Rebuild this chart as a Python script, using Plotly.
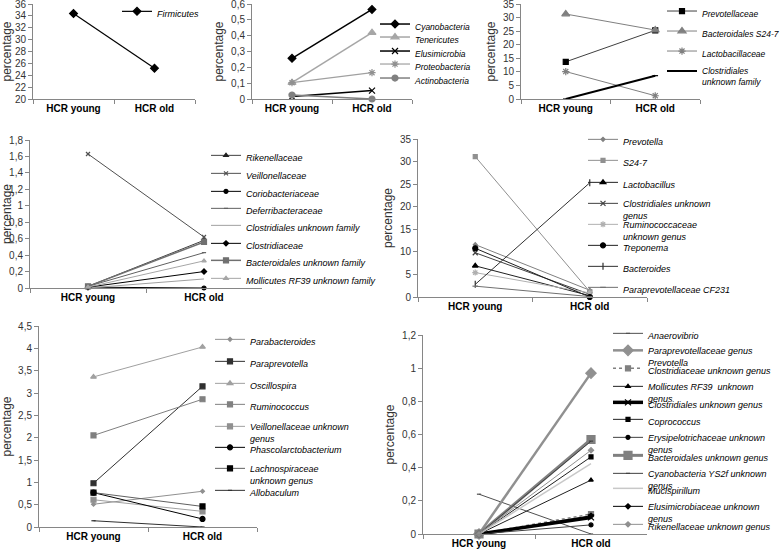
import plotly.graph_objects as go

W, H = 781, 549
FONT = "Liberation Sans, Arial, sans-serif"

categories = ["HCR young", "HCR old"]

# ---- Panel 1: phylum Firmicutes
p1_names = ["Firmicutes"]
p1_values = [[34.4, 25.2]]

# ---- Panel 2: minor phyla
p2_names = ["Cyanobacteria", "Tenericutes", "Elusimicrobia", "Proteobacteria", "Actinobacteria"]
p2_values = [[0.257, 0.566], [0.103, 0.419], [0.015, 0.053], [0.103, 0.166], [0.025, 0.0]]

# ---- Panel 3: major families
p3_names = ["Prevotellaceae", "Bacteroidales S24-7", "Lactobacillaceae", "Clostridiales<br>unknown family"]
p3_values = [[13.7, 25.3], [31.3, 25.4], [10.1, 1.2], [0.0, 8.6]]

# ---- Panel 4: minor families
p4_names = ["Rikenellaceae", "Veillonellaceae", "Coriobacteriaceae", "Deferribacteraceae",
            "Clostridiales unknown family", "Clostridiaceae", "Bacteroidales unknown family",
            "Mollicutes RF39 unknown family"]
p4_values = [[0.02, 0.58], [1.63, 0.62], [0.01, 0.0], [0.02, 0.43],
             [0.0, 0.11], [0.01, 0.20], [0.02, 0.56], [0.01, 0.33]]

# ---- Panel 5: major genera
p5_names = ["Prevotella", "S24-7", "Lactobacillus", "Clostridiales unknown<br>genus",
            "Ruminococcaceae<br>unknown genus", "Treponema", "Bacteroides", "Paraprevotellaceae CF231"]
p5_values = [[11.6, 1.5], [31.1, 1.2], [6.9, 0.3], [9.8, 0.6],
             [5.4, 0.9], [10.8, 0.0], [2.8, 25.3], [2.4, 0.1]]

# ---- Panel 6: intermediate genera
p6_names = ["Parabacteroides", "Paraprevotella", "Oscillospira", "Ruminococcus",
            "Veillonellaceae unknown<br>genus", "Phascolarctobacterium",
            "Lachnospiraceae<br>unknown genus", "Allobaculum"]
p6_values = [[0.51, 0.80], [0.98, 3.15], [3.36, 4.03], [2.05, 2.86],
             [0.61, 0.35], [0.77, 0.18], [0.77, 0.46], [0.14, 0.0]]

# ---- Panel 7: minor genera
p7_names = ["Anaerovibrio", "Paraprevotellaceae genus<br>Prevotella", "Clostridiaceae unknown genus",
            "Mollicutes RF39  unknown<br>genus", "Clostridiales unknown genus", "Coprococcus",
            "Erysipelotrichaceae unknown<br>genus", "Bacteroidales unknown genus",
            "Cyanobacteria YS2f unknown<br>genus", "Mucispirillum",
            "Elusimicrobiaceae unknown<br>genus", "Rikenellaceae unknown genus"]
p7_values = [[0.24, 0.0], [0.0, 0.97], [0.0, 0.12], [0.0, 0.325], [0.0, 0.10], [0.0, 0.465],
             [0.0, 0.055], [0.0, 0.57], [0.0, 0.56], [0.0, 0.425], [0.0, 0.11], [0.0, 0.505]]

# ---- styles: (line colour, line width, dash, marker symbol, marker size, marker colour)
p1_styles = [("#000000", 1.2, "solid", "diamond", 6, "#000000")]
p2_styles = [("#000000", 1.5, "solid", "diamond", 6, "#000000"),
             ("#a6a6a6", 1.5, "solid", "triangle-up", 7, "#a6a6a6"),
             ("#000000", 1.5, "solid", "x-thin-open", 6, "#000000"),
             ("#a0a0a0", 1.2, "solid", "asterisk-open", 6, "#909090"),
             ("#808080", 1.5, "solid", "circle", 6, "#808080")]
p3_styles = [("#404040", 1, "solid", "square", 5, "#000000"),
             ("#808080", 1, "solid", "triangle-up", 7, "#808080"),
             ("#808080", 1, "solid", "asterisk-open", 6, "#808080"),
             ("#000000", 2, "solid", "line-ew-open", 4, "#000000")]
p4_styles = [("#404040", 1, "solid", "triangle-up", 4, "#202020"),
             ("#505050", 1, "solid", "x-thin-open", 4, "#505050"),
             ("#000000", 1, "solid", "circle", 4, "#000000"),
             ("#606060", 1, "solid", "line-ew-open", 3, "#606060"),
             ("#a0a0a0", 1, "solid", None, 0, "#a0a0a0"),
             ("#000000", 1, "solid", "diamond", 4, "#000000"),
             ("#707070", 1.5, "solid", "square", 5, "#707070"),
             ("#a6a6a6", 1, "solid", "triangle-up", 4, "#a6a6a6")]
p5_styles = [("#808080", 1, "solid", "diamond", 3, "#808080"),
             ("#909090", 1, "solid", "square", 4, "#909090"),
             ("#202020", 1, "solid", "triangle-up", 5, "#000000"),
             ("#404040", 1, "solid", "x-thin-open", 5, "#404040"),
             ("#b0b0b0", 1, "solid", "asterisk-open", 5, "#b0b0b0"),
             ("#202020", 1, "solid", "circle", 5, "#000000"),
             ("#303030", 1, "solid", "line-ns-open", 5, "#303030"),
             ("#707070", 1, "solid", "line-ew-open", 4, "#707070")]
p6_styles = [("#909090", 1, "solid", "diamond", 3, "#909090"),
             ("#303030", 1, "solid", "square", 5, "#303030"),
             ("#a0a0a0", 1, "solid", "triangle-up", 5, "#a0a0a0"),
             ("#808080", 1, "solid", "square", 5, "#808080"),
             ("#a0a0a0", 1, "solid", "square", 5, "#909090"),
             ("#000000", 1, "solid", "circle", 5, "#000000"),
             ("#606060", 1, "solid", "square", 5, "#000000"),
             ("#303030", 1, "solid", "line-ew-open", 3, "#303030")]
p7_styles = [("#505050", 1, "solid", "line-ew-open", 3, "#505050"),
             ("#909090", 2.5, "solid", "diamond", 8, "#909090"),
             ("#808080", 1.5, "dot", "square", 5, "#808080"),
             ("#202020", 1, "solid", "triangle-up", 4, "#000000"),
             ("#000000", 3.5, "solid", "x-thin-open", 6, "#000000"),
             ("#202020", 1, "solid", "square", 4, "#000000"),
             ("#404040", 1, "solid", "circle", 4, "#000000"),
             ("#808080", 3, "solid", "square", 8, "#808080"),
             ("#404040", 1, "solid", "line-ew-open", 3, "#404040"),
             ("#c8c8c8", 1.5, "solid", None, 0, "#c8c8c8"),
             ("#000000", 1, "solid", "diamond", 4, "#000000"),
             ("#909090", 1, "solid", "diamond", 4, "#909090")]

# ---- panel geometry in pixels: x0, x1, ytop, ybottom, y range, dtick, legend text x, legend rows, legend font
panels = [
    (p1_names, p1_values, p1_styles, (33, 195, 4, 99), (20, 36), 2, 157, [10], 9),
    (p2_names, p2_values, p2_styles, (252, 412, 4, 99), (0, 0.6), 0.1, 415, [23, 36, 50, 63, 77], 8.5),
    (p3_names, p3_values, p3_styles, (521, 700, 4, 99), (0, 35), 5, 702, [10, 30, 50, 70], 8.5),
    (p4_names, p4_values, p4_styles, (30, 262, 140, 288), (0, 1.8), 0.2, 246,
     [154, 172, 190, 207, 224, 242, 259, 277], 9),
    (p5_names, p5_values, p5_styles, (418, 647, 139, 297), (0, 35), 5, 623,
     [138, 159, 181, 202, 223, 244, 265, 286], 9),
    (p6_names, p6_values, p6_styles, (39, 257, 326, 527), (0, 4.5), 0.5, 250,
     [338, 360, 382, 403, 425, 446, 467, 489], 9),
    (p7_names, p7_values, p7_styles, (423, 647, 335, 534), (0, 1.2), 0.2, 648,
     [332, 349, 367, 385, 401, 418, 436, 454, 472, 487, 505, 523], 9),
]

fig = go.Figure()
layout = dict(
    width=W, height=H, margin=dict(l=0, r=0, t=0, b=0, autoexpand=False),
    paper_bgcolor="white", plot_bgcolor="white",
    font=dict(family=FONT, size=10, color="#333333"),
    separators=", ", showlegend=True,
)

legend_count = 0
for pi, (names, values, styles, geo, yr, dt, lx, rows, lfs) in enumerate(panels, start=1):
    x0, x1, yt, yb = geo
    xa = "xaxis" if pi == 1 else f"xaxis{pi}"
    ya = "yaxis" if pi == 1 else f"yaxis{pi}"
    xref = "x" if pi == 1 else f"x{pi}"
    yref = "y" if pi == 1 else f"y{pi}"
    layout[xa] = dict(domain=[x0 / W, x1 / W], anchor=yref, type="category",
                      range=[-0.5, 1.5], showline=True, linecolor="#868686", linewidth=1,
                      ticks="outside", tickson="boundaries", ticklen=4, tickcolor="#868686",
                      showgrid=False, zeroline=False,
                      tickfont=dict(size=10, color="#000000", weight="bold", family=FONT))
    layout[ya] = dict(domain=[1 - yb / H, 1 - yt / H], anchor=xref, range=list(yr), dtick=dt,
                      showline=True, linecolor="#868686", linewidth=1, ticks="outside",
                      ticklen=4, tickcolor="#868686", showgrid=False, zeroline=False,
                      ticklabeloverflow="allow",
                      tickfont=dict(size=10, color="#333333"),
                      title=dict(text="percentage", font=dict(size=12, color="#333333"), standoff=4))
    for name, vals, st, ry in zip(names, values, styles, rows):
        legend_count += 1
        lg = "legend" if legend_count == 1 else f"legend{legend_count}"
        lc, lw, dash, sym, ms, mc = st
        if sym is None:
            marker = dict(size=1, color=lc, opacity=0)
            mode = "lines"
        else:
            marker = dict(symbol=sym, size=ms, color=mc, line=dict(color=mc, width=1.2))
            mode = "lines+markers"
        fig.add_trace(go.Scatter(
            x=categories, y=vals, name=name, mode=mode, xaxis=xref, yaxis=yref,
            line=dict(color=lc, width=lw, dash=dash), marker=marker, cliponaxis=False,
            legend=lg, showlegend=True))
        layout[lg] = dict(x=(lx - 40) / W, y=1 - (ry - 11) / H, xanchor="left", yanchor="top",
                          bgcolor="rgba(0,0,0,0)", borderwidth=0, itemwidth=30, valign="top",
                          font=dict(size=lfs, style="italic", color="#000000", family=FONT),
                          tracegroupgap=0, itemclick=False, itemdoubleclick=False)

fig.update_layout(**layout)
fig.write_html("out.html", config={"displayModeBar": False},
               post_script="document.body.style.margin='0';document.body.style.overflow='hidden';")
